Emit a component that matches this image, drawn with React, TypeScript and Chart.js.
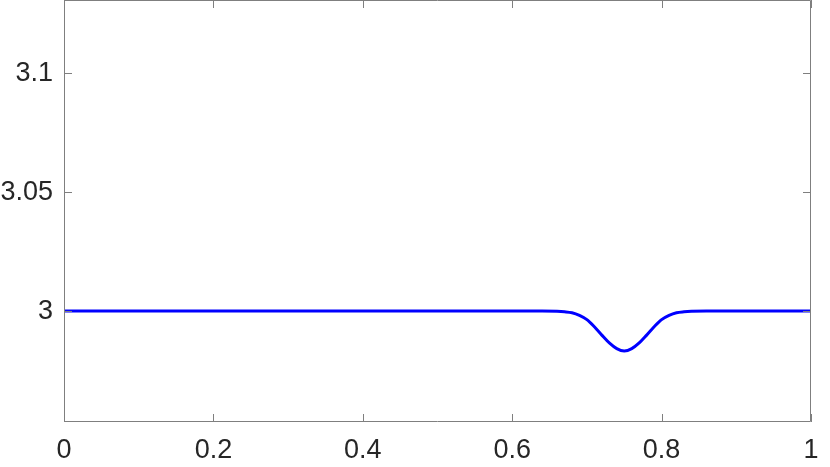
import React, { useEffect, useRef } from "react";
import { Chart, registerables } from "chart.js";

Chart.register(...registerables);

// Curve samples (x, y)
const xValues = [0, 0.37, 0.64, 0.66, 0.67, 0.68, 0.69, 0.70, 0.71, 0.72, 0.73, 0.74, 0.75, 0.76, 0.77, 0.78, 0.79, 0.80, 0.81, 0.82, 0.83, 0.84, 0.86, 1];
const yValues = [3.0, 3.0, 3.0, 2.9999, 2.9997, 2.9993, 2.9982, 2.9964, 2.9934, 2.9899, 2.9866, 2.9842, 2.9832, 2.9842, 2.9866, 2.9899, 2.9934, 2.9964, 2.9982, 2.9993, 2.9997, 2.9999, 3.0, 3.0];

const xTicks = [0, 0.2, 0.4, 0.6, 0.8, 1];
const xTickLabels = ["0", "0.2", "0.4", "0.6", "0.8", "1"];
const yTicks = [3, 3.05, 3.1];
const yTickLabels = ["3", "3.05", "3.1"];

const X_MIN = 0;
const X_MAX = 1;
const Y_MIN = 2.9534;
const Y_MAX = 3.1307;

const AXIS_COLOR = "#7f7f7f";
const TEXT_COLOR = "#262626";
const FONT_FAMILY = "'Liberation Sans', Arial, Helvetica, sans-serif";

const boxPlugin = {
  id: "matlabBox",
  afterDatasetsDraw(chart: any) {
    const { ctx, chartArea } = chart;
    const { left, right, top, bottom } = chartArea;
    const xs = chart.scales.x;
    const ys = chart.scales.y;
    const tl = 8;
    ctx.save();
    ctx.strokeStyle = AXIS_COLOR;
    ctx.lineWidth = 1;
    ctx.beginPath();
    ctx.rect(left + 0.5, top + 0.5, right - left - 1, bottom - top - 1);
    for (const v of xTicks) {
      const px = Math.round(xs.getPixelForValue(v)) + 0.5;
      ctx.moveTo(px, bottom);
      ctx.lineTo(px, bottom - tl);
      ctx.moveTo(px, top);
      ctx.lineTo(px, top + tl);
    }
    for (const v of yTicks) {
      const py = Math.round(ys.getPixelForValue(v)) + 0.5;
      ctx.moveTo(left, py);
      ctx.lineTo(left + tl, py);
      ctx.moveTo(right, py);
      ctx.lineTo(right - tl, py);
    }
    ctx.stroke();
    ctx.restore();
  },
};

export default function App() {
  const canvasRef = useRef<HTMLCanvasElement | null>(null);

  useEffect(() => {
    document.body.style.margin = "0";
    const canvas = canvasRef.current;
    if (!canvas) return;
    const points = xValues.map((x, i) => ({ x, y: yValues[i] }));
    const chart = new Chart(canvas, {
      type: "line",
      data: {
        datasets: [
          {
            data: points,
            borderColor: "#0000ff",
            borderWidth: 3,
            pointRadius: 0,
            fill: false,
            cubicInterpolationMode: "monotone",
          },
        ],
      },
      options: {
        responsive: false,
        animation: false,
        layout: { padding: { top: 0, right: 19, left: 0, bottom: 0 } },
        plugins: { legend: { display: false }, tooltip: { enabled: false } },
        scales: {
          x: {
            type: "linear",
            min: X_MIN,
            max: X_MAX,
            grid: { display: false, drawTicks: false },
            border: { display: false },
            afterBuildTicks: (scale: any) => {
              scale.ticks = xTicks.map((v) => ({ value: v }));
            },
            afterFit: (scale: any) => {
              scale.height = 45;
              scale.paddingLeft = 0;
              scale.paddingRight = 0;
            },
            ticks: {
              color: TEXT_COLOR,
              font: { family: FONT_FAMILY, size: 27 },
              padding: 12,
              maxRotation: 0,
              autoSkip: false,
              callback: (v: any) => {
                const i = xTicks.findIndex((t) => Math.abs(t - Number(v)) < 1e-9);
                return i >= 0 ? xTickLabels[i] : "";
              },
            },
          },
          y: {
            type: "linear",
            min: Y_MIN,
            max: Y_MAX,
            grid: { display: false, drawTicks: false },
            border: { display: false },
            afterBuildTicks: (scale: any) => {
              scale.ticks = yTicks.map((v) => ({ value: v }));
            },
            afterFit: (scale: any) => {
              scale.width = 64;
              scale.paddingTop = 0;
              scale.paddingBottom = 0;
            },
            ticks: {
              color: TEXT_COLOR,
              font: { family: FONT_FAMILY, size: 27 },
              padding: 11,
              autoSkip: false,
              callback: (v: any) => {
                const i = yTicks.findIndex((t) => Math.abs(t - Number(v)) < 1e-9);
                return i >= 0 ? yTickLabels[i] : "";
              },
            },
          },
        },
      },
      plugins: [boxPlugin],
    });
    return () => chart.destroy();
  }, []);

  return (
    <div style={{ width: 830, height: 467, background: "#ffffff" }}>
      <canvas ref={canvasRef} width={830} height={467} />
    </div>
  );
}
